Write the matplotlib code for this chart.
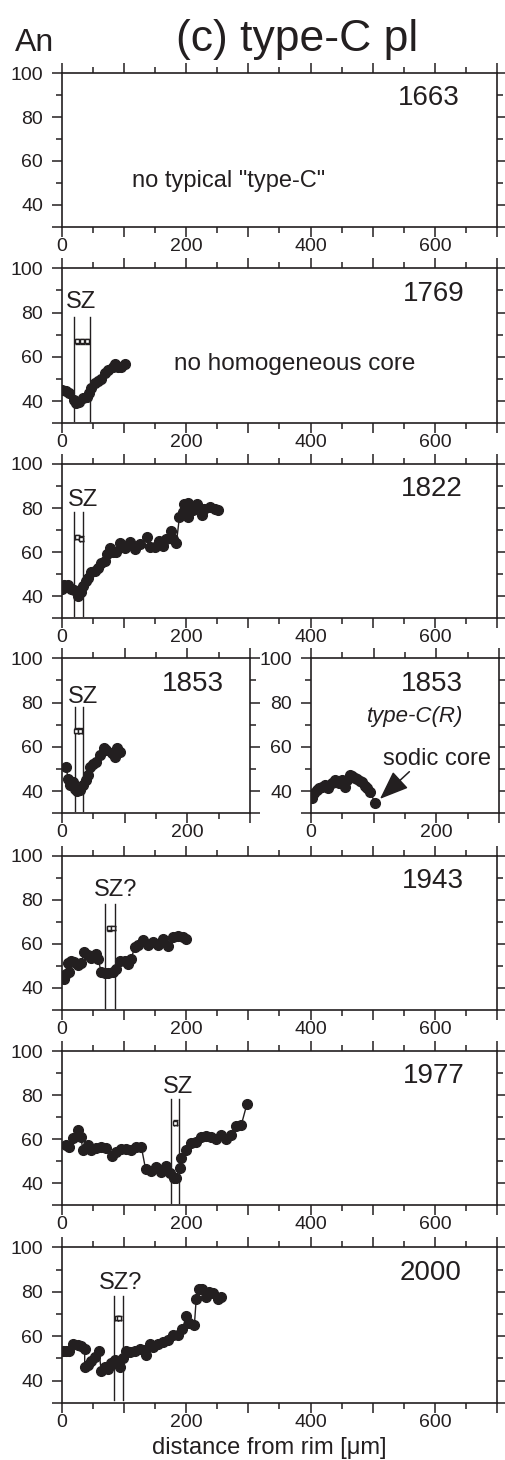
import matplotlib.pyplot as plt
from matplotlib.ticker import FixedLocator, MultipleLocator, FuncFormatter

plt.rcParams['font.family'] = ['Liberation Sans', 'DejaVu Sans']

INK = '#231f20'

# An profiles, distance from rim [um] vs An
x_1769 = [0, 7, 12, 19, 23, 28, 34, 40, 43, 47, 53, 58, 63, 69, 74, 82, 85, 90, 95, 101]
an_1769 = [45, 44.5, 43.7, 40.6, 39, 39.8, 41.3, 42, 43.6, 46, 48, 49, 50, 52.6, 54, 55.5, 57, 55.5, 55.5, 57]

x_1822 = [0, 4, 10, 15, 20, 26, 30, 34, 38, 42, 47, 53, 58, 63, 69, 72, 77, 82, 87, 93,
          101, 109, 117, 125, 136, 141, 149, 156, 162, 168, 175, 179, 184, 189, 194, 197,
          203, 203, 211, 217, 226, 229, 238, 246, 251]
an_1822 = [43.3, 45.3, 45.3, 43.3, 43, 40.3, 41.8, 44.7, 47, 48.5, 50.8, 51.5, 53, 55, 56, 59, 62, 60, 60, 64,
           62, 64.5, 61.5, 63.5, 67, 62.5, 62.3, 65, 63, 66, 69.8, 66, 64, 76, 78, 82,
           82.5, 76, 79, 81.8, 77, 79.5, 80.7, 79.5, 79]

x_1853 = [6, 10, 12, 17, 20, 24, 28, 34, 38, 42, 45, 50, 55, 61, 67, 71, 79, 85, 88, 92]
an_1853 = [51, 45.6, 43, 44, 41.2, 40, 40.6, 42.6, 45, 47.2, 51, 52.2, 53.2, 56.3, 59.3, 58.5, 57.3, 55.5, 59.3, 57.8]

x_1853r = [1, 5, 9, 13, 17, 22, 27, 33, 38, 44, 50, 55, 58, 62, 66, 70, 74, 78, 82, 86, 90, 94, 102]
an_1853r = [37, 39, 40.4, 41.5, 42, 42.8, 41.5, 43.5, 45, 43.8, 45, 42, 45, 47.5, 47, 46, 45.5, 44.5, 44, 42.5, 41.5, 39.8, 34.8]

x_1943 = [3, 7, 11, 10, 15, 20, 26, 31, 36, 42, 47, 54, 58, 63, 68.6, 74, 82, 87.4, 92.8, 100.8,
          106, 111.5, 117, 122, 130, 138, 146, 154, 162.5, 170.5, 178.5, 186.6, 194.6, 200]
an_1943 = [44.2, 46.2, 47.3, 51.4, 52.1, 51.8, 50.3, 51.4, 56.4, 54.8, 53.8, 55.6, 53.3, 47.3, 47, 47, 47.2, 48.8, 52.4, 52.4,
           51, 53.3, 58.6, 59.4, 61.7, 59.4, 61, 59.4, 62, 59, 62.9, 63.5, 62.9, 62.4]

x_1977 = [7, 12, 18, 26, 30, 34, 42, 47, 55, 63, 71, 81, 87, 95.4, 103.5, 111.5, 119.6, 127.6, 134.6, 143.7,
          151.7, 159.8, 167.8, 174.3, 179.6, 184, 189.3, 192, 200, 208, 216, 224, 232, 240, 248, 256,
          264, 272.4, 280, 288.5, 297.6]
an_1977 = [57.3, 56.5, 60.3, 64.1, 60.8, 55, 57.3, 55, 55.8, 56.5, 55.8, 52.3, 54.2, 55.5, 55.3, 55, 56.5, 56.5, 46.2, 45.6,
           47.1, 45.2, 47.7, 44.4, 42.1, 42.1, 46.7, 51.2, 55, 58, 58.8, 60.8, 61.4, 61, 59.8, 61.8,
           59.8, 61.8, 65.9, 66.4, 75.9]

x_2000 = [1.6, 7, 12, 18, 26, 31, 36.5, 36.5, 42, 47, 52.5, 59.5, 63, 68.6, 74, 79.4, 84.7, 90, 94, 98,
          103.5, 109, 117, 125, 133, 135.7, 141, 146, 154.4, 162.5, 170.5, 178.5, 186.6, 193.6, 200, 204,
          213, 216, 220, 225.7, 232, 236.5, 243, 251, 256]
an_2000 = [53.5, 53.2, 53.5, 56.6, 55.8, 55.4, 54.3, 46.3, 46.8, 49, 50.5, 53.5, 44.5, 46, 45.3, 47.8, 49.3, 47.5, 46.3, 50.2,
           53.5, 52.8, 53.5, 54.3, 53.8, 51.3, 56.6, 55, 56.3, 57.3, 58.4, 60.3, 60.3, 63.3, 68.9, 65.9,
           64.9, 76.9, 81.4, 81.4, 77.7, 80, 79.2, 76.5, 77.7]

# sodic-zone (SZ) boundaries and An of the SZ analyses
sz_1769 = (19, 44.5)
sz_1822 = (20, 34)
sz_1853 = (20, 34)
sz_1943 = (70, 86)
sz_1977 = (176, 189)
sz_2000 = (83.6, 98)

szan_x_1769 = [24.5, 32, 40.5]
szan_y_1769 = [67, 67, 67]
szan_x_1822 = [23.5, 31]
szan_y_1822 = [66.8, 66.2]
szan_x_1853 = [23, 29]
szan_y_1853 = [67.3, 67.3]
szan_x_1943 = [75, 82]
szan_y_1943 = [67, 67.3]
szan_x_1977 = [182]
szan_y_1977 = [67.5]
szan_x_2000 = [88, 92]
szan_y_2000 = [68.2, 68.2]

W, H = 506, 1460
fig = plt.figure(figsize=(W / 100, H / 100), dpi=100)


def make_axes(left, right, top, bottom):
    return fig.add_axes([left / W, 1 - bottom / H, (right - left) / W, (bottom - top) / H])


def style(ax, xmax):
    ax.set_xlim(0, xmax)
    ax.set_ylim(30, 100)
    ax.xaxis.set_major_locator(MultipleLocator(100))
    ax.xaxis.set_minor_locator(MultipleLocator(50))
    ax.xaxis.set_major_formatter(FuncFormatter(lambda v, p: f'{v:.0f}' if round(v) % 200 == 0 else ''))
    ax.yaxis.set_major_locator(FixedLocator([30, 40, 60, 80, 100]))
    ax.yaxis.set_minor_locator(FixedLocator([50, 70, 90]))
    ax.yaxis.set_major_formatter(FuncFormatter(lambda v, p: '' if v < 35 else f'{v:.0f}'))
    ax.tick_params(which='both', direction='out', top=True, right=True,
                   labelsize=14, color=INK, labelcolor=INK, width=1.1)
    ax.tick_params(which='major', length=7.5)
    ax.tick_params(which='minor', length=4.5)
    ax.tick_params(axis='x', pad=0.5)
    ax.tick_params(axis='y', pad=6)
    for s in ax.spines.values():
        s.set_linewidth(1.2)
        s.set_color(INK)


def profile(ax, x, an):
    ax.plot(x, an, '-', color=INK, lw=1.0, marker='o', ms=7, mfc=INK, mec=INK, zorder=3)


def sz(ax, bounds, xs, ys, label, lx, ly):
    for b in bounds:
        ax.plot([b, b], [31, 78], color=INK, lw=1.0, zorder=2)
    ax.errorbar(xs, ys, xerr=2.5, yerr=1.0, fmt='s', ms=3.5, mfc='white', mec=INK, mew=1.0,
                ecolor=INK, elinewidth=1.0, capsize=1.8, zorder=4)
    ax.text(lx, ly, label, fontsize=17, color=INK, ha='center', va='center')


def year(ax, txt, fx):
    ax.text(fx, 0.836, txt, transform=ax.transAxes, fontsize=20, color=INK, ha='right', va='center')


# 1663
ax1 = make_axes(62, 497, 73.3, 226.7)
style(ax1, 700)
year(ax1, '1663', 0.915)
ax1.text(268, 51, 'no typical "type-C"', fontsize=17, color=INK, ha='center', va='center')

# 1769
ax2 = make_axes(62, 497, 268.3, 423.3)
style(ax2, 700)
profile(ax2, x_1769, an_1769)
sz(ax2, sz_1769, szan_x_1769, szan_y_1769, 'SZ', 31, 85)
year(ax2, '1769', 0.925)
ax2.text(374, 57, 'no homogeneous core', fontsize=17.5, color=INK, ha='center', va='center')

# 1822
ax3 = make_axes(62, 497, 464, 618.3)
style(ax3, 700)
profile(ax3, x_1822, an_1822)
sz(ax3, sz_1822, szan_x_1822, szan_y_1822, 'SZ', 34, 83.6)
year(ax3, '1822', 0.922)

# 1853 (type-C) and 1853 type-C(R)
ax4 = make_axes(62, 250, 658.3, 813.3)
style(ax4, 300)
profile(ax4, x_1853, an_1853)
sz(ax4, sz_1853, szan_x_1853, szan_y_1853, 'SZ', 34, 82.7)
year(ax4, '1853', 0.862)

ax4r = make_axes(311, 499, 658.3, 813.3)
style(ax4r, 300)
profile(ax4r, x_1853r, an_1853r)
year(ax4r, '1853', 0.81)
ax4r.text(0.81, 0.624, 'type-C(R)', transform=ax4r.transAxes, fontsize=16, style='italic',
          color=INK, ha='right', va='center')
ax4r.text(201, 54.3, 'sodic core', fontsize=17, color=INK, ha='center', va='center')
ax4r.annotate('', xy=(110, 36.5), xytext=(157, 48.8),
              arrowprops=dict(arrowstyle='-|>,head_length=0.9,head_width=0.35',
                              mutation_scale=20, color=INK, lw=1.1, shrinkA=0, shrinkB=0))

# 1943
ax5 = make_axes(62, 497, 855.7, 1010)
style(ax5, 700)
profile(ax5, x_1943, an_1943)
sz(ax5, sz_1943, szan_x_1943, szan_y_1943, 'SZ?', 87, 84.4)
year(ax5, '1943', 0.925)

# 1977
ax6 = make_axes(62, 497, 1051, 1205)
style(ax6, 700)
profile(ax6, x_1977, an_1977)
sz(ax6, sz_1977, szan_x_1977, szan_y_1977, 'SZ', 186.6, 83.8)
year(ax6, '1977', 0.925)

# 2000
ax7 = make_axes(62, 497, 1247.3, 1402.7)
style(ax7, 700)
profile(ax7, x_2000, an_2000)
sz(ax7, sz_2000, szan_x_2000, szan_y_2000, 'SZ?', 95, 83.7)
year(ax7, '2000', 0.918)

fig.text(297 / W, 1 - 40 / H, '(c) type-C pl', fontsize=32, color=INK, ha='center', va='center')
fig.text(35 / W, 1 - 43 / H, 'An', fontsize=23, color=INK, ha='center', va='center')
fig.text(269 / W, 1 - 1448 / H, 'distance from rim [\u03bcm]', fontsize=17, color=INK, ha='center', va='center')

fig.savefig('out.png', dpi=100)
